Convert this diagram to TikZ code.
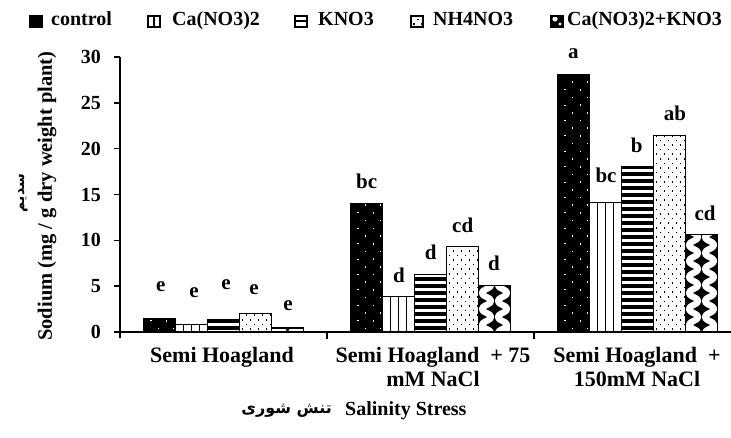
\documentclass[tikz,border=0pt]{standalone}
\usepackage{fontspec}
\setmainfont{Liberation Serif}
\newfontfamily\arabicfont[Script=Arabic]{DejaVu Sans}
\TeXXeTstate=1

\tikzset{
  barline/.style={draw=black, line width=1.3pt},
  axisline/.style={line width=1.6pt},
  sig/.style={font=\fontsize{21pt}{25pt}\selectfont\bfseries, inner sep=0pt},
  ticklab/.style={font=\fontsize{20pt}{24pt}\selectfont\bfseries, anchor=east, inner sep=0pt},
  catlab/.style={font=\fontsize{22pt}{24pt}\selectfont\bfseries, align=center, inner sep=0pt, anchor=north},
  legtext/.style={font=\fontsize{20pt}{24pt}\selectfont\bfseries, anchor=base west, inner sep=0pt},
  legsq/.style={draw=black, line width=1.2pt},
}

% patterns: #1 left x, #2 bottom y, #3 width, #4 height (screen px, y down)
\newcommand\patctl[4]{%
  \fill[black] (#1,#2) rectangle (#1+#3,#2-#4);
  \begin{scope}
    \clip (#1,#2) rectangle (#1+#3,#2-#4);
    \pgfmathtruncatemacro\nr{#4/7.7+1}%
    \foreach \j in {0,...,\nr}{%
      \pgfmathsetmacro\yy{#2-3.5-7.7*\j}%
      \ifodd\j
        \fill[white] (#1+6.2,\yy-0.5) rectangle ++(2.2,1);
        \fill[white] (#1+22.2,\yy-0.8) rectangle ++(1.6,1.6);
      \else
        \fill[white] (#1+14.2,\yy-0.8) rectangle ++(1.6,1.6);
        \fill[white] (#1+29.2,\yy-0.8) rectangle ++(1.6,1.6);
      \fi
    }
  \end{scope}}
\newcommand\patca[4]{%
  \fill[white] (#1,#2) rectangle (#1+#3,#2-#4);
  \begin{scope}
    \clip (#1,#2) rectangle (#1+#3,#2-#4);
    \foreach \k in {8,16,24}{\draw[line width=1.3pt] (#1+\k,#2) -- (#1+\k,#2-#4);}
  \end{scope}}
\newcommand\patkno[4]{%
  \fill[white] (#1,#2) rectangle (#1+#3,#2-#4);
  \begin{scope}
    \clip (#1,#2) rectangle (#1+#3,#2-#4);
    \pgfmathtruncatemacro\nr{#4/7+1}%
    \foreach \j in {0,...,\nr}{%
      \pgfmathsetmacro\yy{#2-2-7*\j}%
      \fill[black] (#1,\yy) rectangle (#1+#3,\yy-3.8);
    }
  \end{scope}}
\newcommand\patnh[4]{%
  \fill[white] (#1,#2) rectangle (#1+#3,#2-#4);
  \begin{scope}
    \clip (#1,#2) rectangle (#1+#3,#2-#4);
    \pgfmathtruncatemacro\nr{#4/4.6+1}%
    \foreach \j in {0,...,\nr}{%
      \pgfmathsetmacro\yy{#2-3-4.6*\j}%
      \ifodd\j
        \foreach \k in {7,15,23,31}{\fill[black] (#1+\k-0.8,\yy-0.8) rectangle ++(1.6,1.6);}
      \else
        \foreach \k in {3,11,19,27}{\fill[black] (#1+\k-0.8,\yy-0.8) rectangle ++(1.6,1.6);}
      \fi
    }
  \end{scope}}
\newcommand\cstar[2]{%
  \fill[black,shift={(#1,#2)}] (0,-8.5) .. controls (1.5,-3.5) .. (8.5,0) .. controls (1.5,3.5) .. (0,8.5) .. controls (-1.5,3.5) .. (-8.5,0) .. controls (-1.5,-3.5) .. cycle;}
\newcommand\patcombo[4]{%
  \fill[white] (#1,#2) rectangle (#1+#3,#2-#4);
  \begin{scope}
    \clip (#1,#2) rectangle (#1+#3,#2-#4);
    \pgfmathtruncatemacro\nr{#4/16+1}%
    \foreach \j in {0,...,\nr}{%
      \pgfmathsetmacro\ya{#2-7-16*\j}%
      \pgfmathsetmacro\yb{#2-15-16*\j}%
      \cstar{#1+16}{\ya}
      \cstar{#1}{\yb}
      \cstar{#1+32}{\yb}
    }
  \end{scope}}
% bar: #1 pattern name, #2 left x, #3 value
\newcommand\drawbar[3]{%
  \pgfmathsetmacro\hh{#3*9.1667}%
  \csname pat#1\endcsname{#2}{332}{32}{\hh}%
  \draw[barline] (#2,332) rectangle (#2+32,332-\hh);}

\begin{document}
\begin{tikzpicture}[x=1pt,y=-1pt]
\useasboundingbox (0,0) rectangle (731,438);

% bars, group 1 (center 223.5)
\drawbar{ctl}{143.5}{1.5}
\drawbar{ca}{175.5}{0.85}
\drawbar{kno}{207.5}{1.35}
\drawbar{nh}{239.5}{2.0}
\drawbar{combo}{271.5}{0.45}
% group 2 (center 430.5)
\drawbar{ctl}{350.5}{14.0}
\drawbar{ca}{382.5}{3.85}
\drawbar{kno}{414.5}{6.3}
\drawbar{nh}{446.5}{9.3}
\drawbar{combo}{478.5}{5.05}
% group 3 (center 637.5)
\drawbar{ctl}{557.5}{28.1}
\drawbar{ca}{589.5}{14.15}
\drawbar{kno}{621.5}{18.0}
\drawbar{nh}{653.5}{21.45}
\drawbar{combo}{685.5}{10.6}

% axes
\coordinate (O) at (120,332);
\coordinate (ytop) at (120,57);
\coordinate (xend) at (731,332);
\draw[axisline] (ytop) -- (120,338);
\draw[axisline] (O) -- (xend);
\foreach \v/\lab in {0/0,5/5,10/10,15/15,20/20,25/25,30/30}{%
  \pgfmathsetmacro\yy{332-\v*9.1667}
  \draw[axisline] (114,\yy) -- (120,\yy);
  \node[ticklab] (t\v) at (101,\yy) {\lab};
}
\draw[axisline] (327,332) -- (327,339);
\draw[axisline] (534,332) -- (534,339);

% significance letters
\node[sig] (s11) at (160.7,287) {e};
\node[sig] (s12) at (194,293) {e};
\node[sig] (s13) at (226,285) {e};
\node[sig] (s14) at (254,290) {e};
\node[sig] (s15) at (288,306) {e};
\node[sig] (s21) at (366.7,181.7) {bc};
\node[sig] (s22) at (399,275) {d};
\node[sig] (s23) at (430.7,252.7) {d};
\node[sig] (s24) at (462.7,225) {cd};
\node[sig] (s25) at (494,263.3) {d};
\node[sig] (s31) at (573.3,53.3) {a};
\node[sig] (s32) at (606,175) {bc};
\node[sig] (s33) at (636.7,145) {b};
\node[sig] (s34) at (675,113.3) {ab};
\node[sig] (s35) at (705,213.3) {cd};

% category labels
\node[catlab] (c1) at (222,347) {Semi Hoagland};
\node[catlab] (c2) at (433,347) {Semi Hoagland~~+ 75\\mM NaCl};
\node[catlab] (c3) at (637,347) {Semi Hoagland~~+\\150mM NaCl};

% axis titles
\node[font=\fontsize{20.5pt}{24pt}\selectfont\bfseries, rotate=90, inner sep=0pt] (ytitle) at (47,196) {Sodium (mg / g dry weight plant)};
\node[font=\fontsize{14pt}{16pt}\selectfont\arabicfont\bfseries, rotate=90, inner sep=0pt] (yfa) at (23,193) {\beginR سدیم\endR};
\node[font=\fontsize{20pt}{24pt}\selectfont\bfseries, anchor=west, inner sep=0pt] (xtitle) at (345,411) {Salinity Stress};
\node[font=\fontsize{16pt}{19pt}\selectfont\arabicfont\bfseries, anchor=east, inner sep=0pt] (xfa) at (332,411) {\beginR تنش شوری\endR};

% legend
\patctl{30}{27}{12}{11}
\draw[legsq] (30,27) rectangle (42,16);
\node[legtext] (l1) at (51,26) {control};
\fill[white] (148,27) rectangle (160,16);
\draw[legsq] (148,27) rectangle (160,16);
\draw[line width=1.2pt] (154,27) -- (154,16);
\node[legtext] (l2) at (172,26) {Ca(NO3)2};
\fill[white] (295,27) rectangle (307,16);
\draw[line width=1.5pt] (295,27) rectangle (307,16);
\fill[black] (295,22.5) rectangle (307,20.5);
\node[legtext] (l3) at (318,26) {KNO3};
\patnh{411}{27}{12}{11}
\draw[legsq] (411,27) rectangle (423,16);
\node[legtext] (l4) at (433,26) {NH4NO3};
\fill[black] (551,27) rectangle (563,16);
\fill[white] (555,19) circle (2.6);
\fill[white] (560,24) circle (1.6);
\draw[legsq] (551,27) rectangle (563,16);
\node[legtext] (l5) at (567,26) {Ca(NO3)2+KNO3};
\end{tikzpicture}
\end{document}
